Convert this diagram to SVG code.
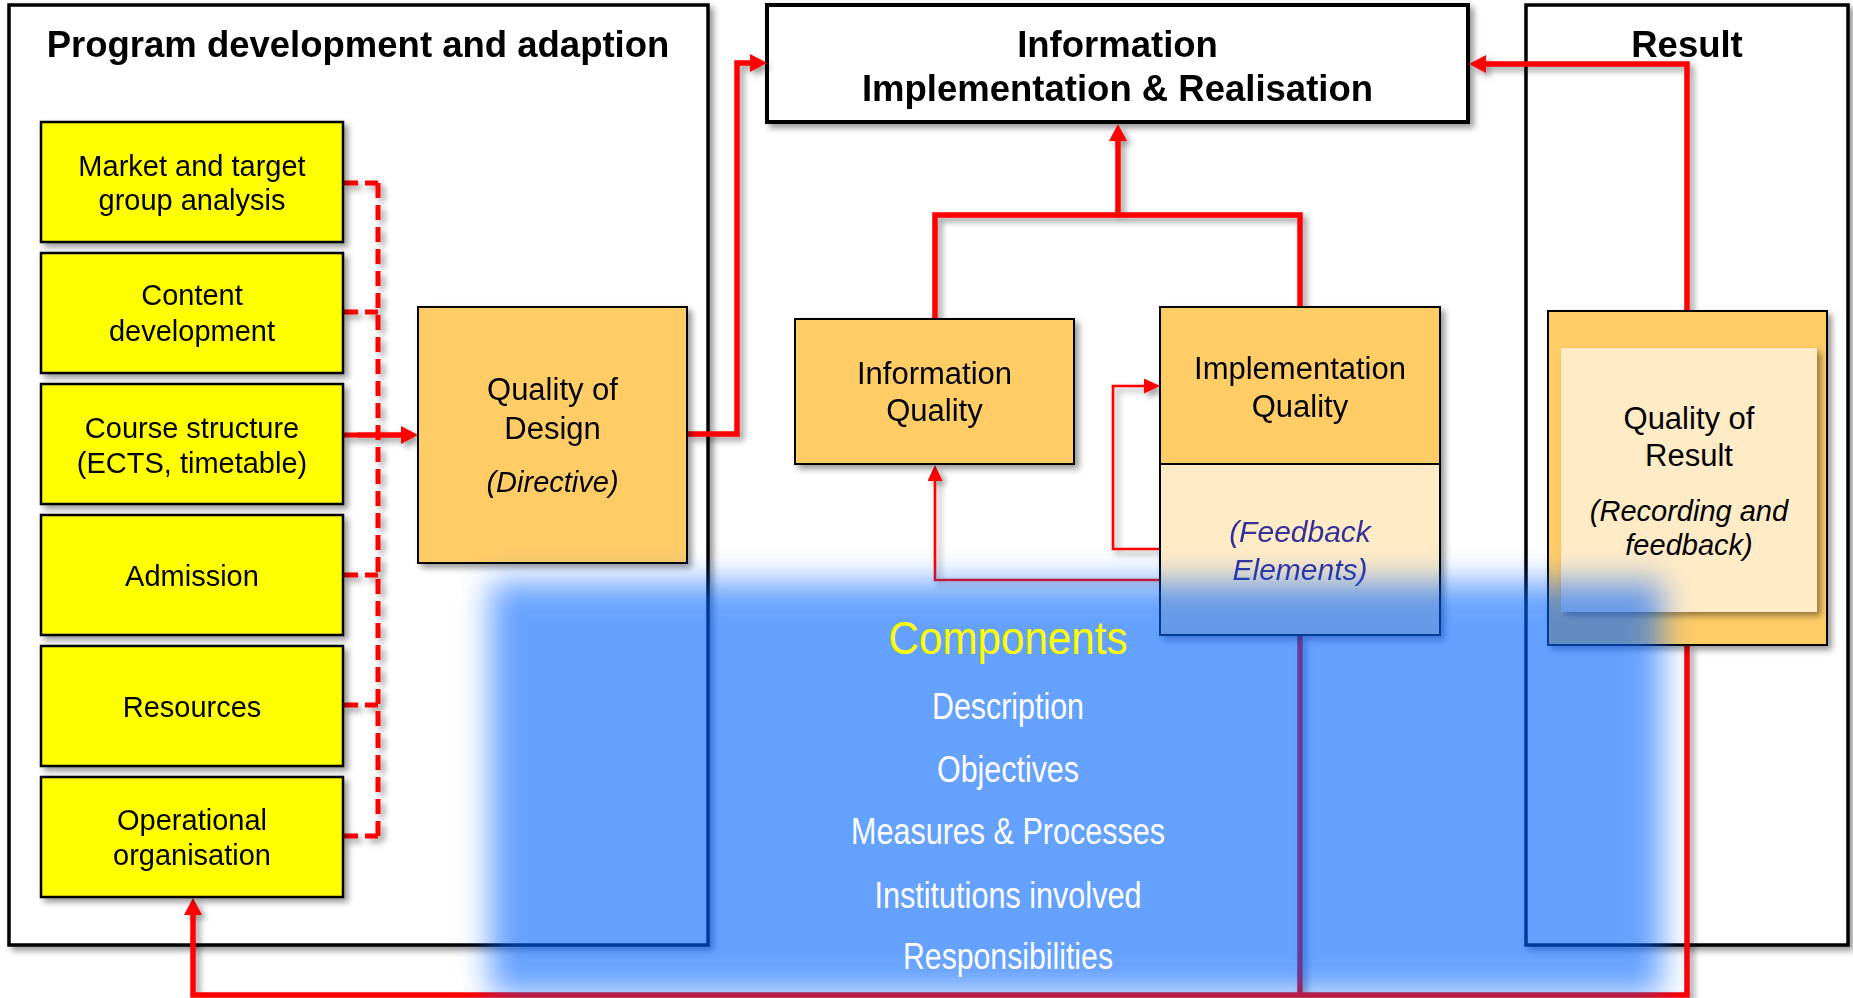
<svg xmlns="http://www.w3.org/2000/svg" width="1853" height="998" viewBox="0 0 1853 998">
<defs>
<style>
.t{font-family:"Liberation Sans",Arial,sans-serif;fill:#000;text-anchor:middle}
.b{font-weight:bold;font-size:36.5px}
.y{font-size:29px}
.o{font-size:31px}
.i{font-style:italic;font-size:29px}
.panel{fill:#fff;stroke:#000;stroke-width:3.5}
.yb{fill:#ffff00;stroke:#000;stroke-width:2.5}
.ob{fill:#ffcc66;stroke:#000;stroke-width:2}
.cr{fill:#ffebc6}
.thick{fill:none;stroke:#ff0000;stroke-width:5.5;stroke-linejoin:miter}
.thin{fill:none;stroke:#ff0000;stroke-width:2.6}
.dash{fill:none;stroke:#ff0000;stroke-width:5;stroke-dasharray:15 7}
.ci{font-family:"Liberation Sans",Arial,sans-serif;fill:#fff;font-size:36px;text-anchor:middle}
</style>
<filter id="sh" x="-10%" y="-10%" width="130%" height="130%">
<feDropShadow dx="4" dy="4" stdDeviation="3" flood-color="#000" flood-opacity="0.4"/>
</filter>
<filter id="blur" x="-10%" y="-20%" width="120%" height="140%">
<feGaussianBlur stdDeviation="16"/>
</filter>
<marker id="ah" markerUnits="userSpaceOnUse" markerWidth="18" markerHeight="18" refX="1" refY="9" orient="auto">
<path d="M0,0 L17,9 L0,18 z" fill="#ff0000"/>
</marker>
<marker id="ahs" markerUnits="userSpaceOnUse" markerWidth="17" markerHeight="16" refX="1" refY="7.5" orient="auto">
<path d="M0,0 L16,7.5 L0,15 z" fill="#ff0000"/>
</marker>
</defs>
<rect width="1853" height="998" fill="#fff"/>

<g id="panel-program" filter="url(#sh)">
<rect class="panel" x="9" y="5" width="699" height="940"/>
<text class="t b" x="358" y="57">Program development and adaption</text>
</g>
<g id="panel-result" filter="url(#sh)">
<rect class="panel" x="1526" y="5" width="322" height="940"/>
<text class="t b" x="1687" y="57">Result</text>
</g>
<g id="node-info-impl" filter="url(#sh)">
<rect x="767" y="5" width="701" height="117" fill="#fff" stroke="#000" stroke-width="4"/>
<text class="t b" x="1117.5" y="57">Information</text>
<text class="t b" x="1117.5" y="101">Implementation &amp; Realisation</text>
</g>

<g id="connectors" filter="url(#sh)">
<path class="dash" d="M378,183 V836"/>
<path class="dash" d="M343,183 H378"/>
<path class="dash" d="M343,312 H378"/>
<path class="dash" d="M343,435 H360"/>
<path class="dash" d="M343,575 H378"/>
<path class="dash" d="M343,705 H378"/>
<path class="dash" d="M343,836 H378"/>
<path class="thick" d="M357,435 H402" marker-end="url(#ah)"/>
<path class="thick" d="M687,434 H737 V63 H751" marker-end="url(#ah)"/>
<path class="thick" d="M935,319 V215 H1300 V307" stroke-width="6"/>
<path class="thick" d="M1118,215 V140" stroke-width="6" marker-end="url(#ah)"/>
<path class="thick" d="M1687,311 V64 H1485" stroke-width="6" marker-end="url(#ah)"/>
<path class="thick" d="M1687,645 V995 H193 V914" marker-end="url(#ah)"/>
<path class="thick" d="M1300,635 V995" stroke-width="5"/>
<path class="thin" d="M1162,549 H1113 V386 H1145" marker-end="url(#ahs)"/>
<path class="thin" d="M1162,580 H935 V480" marker-end="url(#ahs)"/>
</g>

<g id="node-market" filter="url(#sh)">
<rect class="yb" x="41" y="122" width="302" height="120"/>
<text class="t y" x="192" y="176">Market and target</text>
<text class="t y" x="192" y="210">group analysis</text>
</g>
<g id="node-content" filter="url(#sh)">
<rect class="yb" x="41" y="253" width="302" height="120"/>
<text class="t y" x="192" y="305">Content</text>
<text class="t y" x="192" y="341">development</text>
</g>
<g id="node-course" filter="url(#sh)">
<rect class="yb" x="41" y="384" width="302" height="120"/>
<text class="t y" x="192" y="438">Course structure</text>
<text class="t y" x="192" y="473">(ECTS, timetable)</text>
</g>
<g id="node-admission" filter="url(#sh)">
<rect class="yb" x="41" y="515" width="302" height="120"/>
<text class="t y" x="192" y="586">Admission</text>
</g>
<g id="node-resources" filter="url(#sh)">
<rect class="yb" x="41" y="646" width="302" height="120"/>
<text class="t y" x="192" y="717">Resources</text>
</g>
<g id="node-operational" filter="url(#sh)">
<rect class="yb" x="41" y="777" width="302" height="120"/>
<text class="t y" x="192" y="830">Operational</text>
<text class="t y" x="192" y="865">organisation</text>
</g>

<g id="node-quality-design" filter="url(#sh)">
<rect class="ob" x="418" y="307" width="269" height="256"/>
<text class="t o" x="552.5" y="400">Quality of</text>
<text class="t o" x="552.5" y="439">Design</text>
<text class="t i" x="552.5" y="492">(Directive)</text>
</g>

<g id="node-info-quality" filter="url(#sh)">
<rect class="ob" x="795" y="319" width="279" height="145"/>
<text class="t o" x="934.5" y="384">Information</text>
<text class="t o" x="934.5" y="421">Quality</text>
</g>

<g id="node-impl-quality" filter="url(#sh)">
<rect class="ob" x="1160" y="307" width="280" height="157"/>
<rect x="1160" y="464" width="280" height="171" fill="#ffebc6" stroke="#000" stroke-width="2"/>
<text class="t o" x="1300" y="379">Implementation</text>
<text class="t o" x="1300" y="417">Quality</text>
<text class="t i" x="1300" y="542" style="fill:#333399;font-size:30px">(Feedback</text>
<text class="t i" x="1300" y="580" style="fill:#333399;font-size:30px">Elements)</text>
</g>

<g id="node-quality-result">
<rect class="ob" x="1548" y="311" width="279" height="334" filter="url(#sh)"/>
<rect class="cr" x="1561" y="348" width="256" height="264" filter="url(#sh)"/>
<text class="t o" x="1689" y="429">Quality of</text>
<text class="t o" x="1689" y="466">Result</text>
<text class="t i" x="1689" y="521">(Recording and</text>
<text class="t i" x="1689" y="555">feedback)</text>
</g>

<g id="components-overlay">
<rect x="490" y="582" width="1172" height="412" fill="rgb(0,100,255)" opacity="0.6" filter="url(#blur)"/>
<text class="ci" x="1008" y="654" style="fill:#ffff00;font-size:46px" textLength="239" lengthAdjust="spacingAndGlyphs">Components</text>
<text class="ci" x="1008" y="719" textLength="152" lengthAdjust="spacingAndGlyphs">Description</text>
<text class="ci" x="1008" y="782" textLength="142" lengthAdjust="spacingAndGlyphs">Objectives</text>
<text class="ci" x="1008" y="844" textLength="314" lengthAdjust="spacingAndGlyphs">Measures &amp; Processes</text>
<text class="ci" x="1008" y="908" textLength="267" lengthAdjust="spacingAndGlyphs">Institutions involved</text>
<text class="ci" x="1008" y="969" textLength="210" lengthAdjust="spacingAndGlyphs">Responsibilities</text>
</g>
</svg>
